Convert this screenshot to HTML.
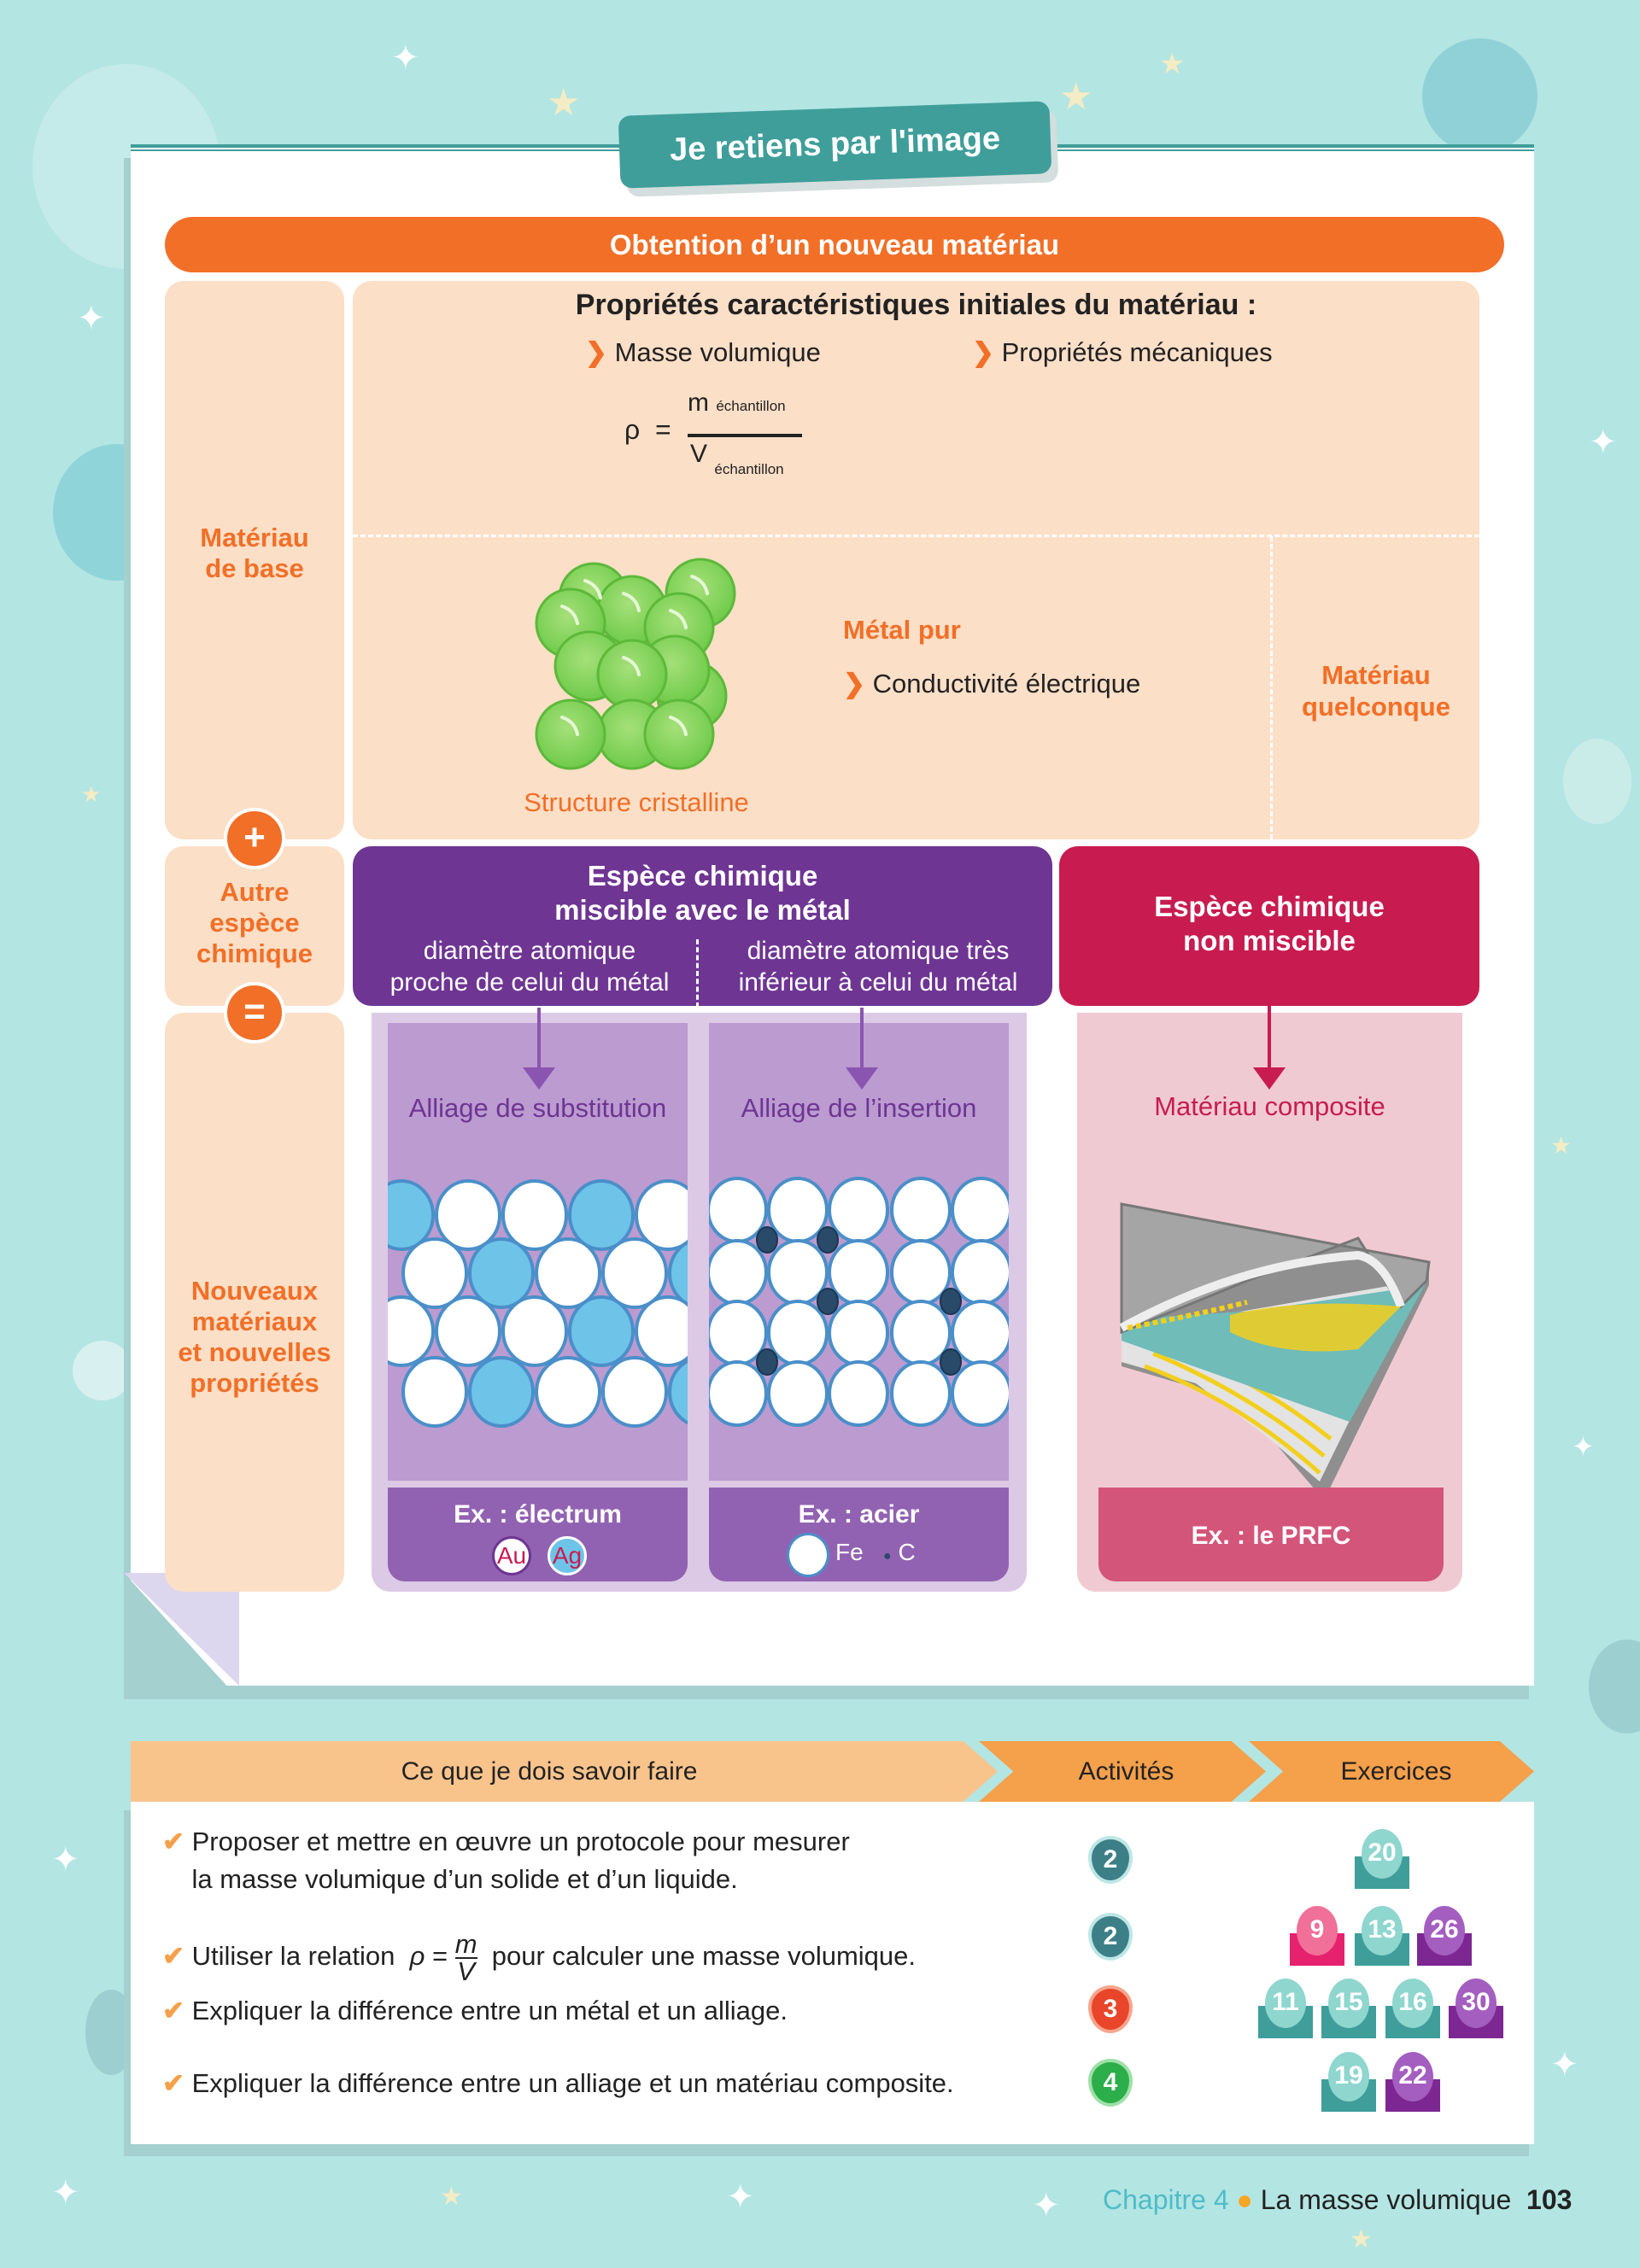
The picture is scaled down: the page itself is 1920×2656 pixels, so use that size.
<!DOCTYPE html>
<html><head><meta charset="utf-8">
<style>
*{margin:0;padding:0;box-sizing:border-box}
body{width:1920px;height:2656px;background:#b3e5e3;position:relative;overflow:hidden;font-family:"Liberation Sans",sans-serif}
.a{position:absolute}
.c{text-align:center}
.or{color:#f26f27;font-weight:bold}
</style></head><body>
<div class="a" style="left:38px;top:75px;width:220px;height:240px;border-radius:50%;background:#c8ebea;opacity:.8"></div>
<div class="a" style="left:62px;top:520px;width:150px;height:160px;border-radius:50%;background:#8fd4d8"></div>
<div class="a" style="left:1665px;top:45px;width:135px;height:135px;border-radius:50%;background:#8fd1d6"></div>
<div class="a" style="left:1830px;top:865px;width:80px;height:100px;border-radius:50%;background:#c9ece9"></div>
<div class="a" style="left:1860px;top:1920px;width:90px;height:110px;border-radius:50%;background:#9ccfcf"></div>
<div class="a" style="left:100px;top:2330px;width:60px;height:100px;border-radius:50%;background:#9ccfcf"></div>
<div class="a" style="left:85px;top:1570px;width:70px;height:70px;border-radius:50%;background:#d8f0ef"></div>

<div class="a" style="left:145px;top:185px;width:1645px;height:1805px;background:#a4d0cf"></div>
<div class="a" style="left:153px;top:169px;width:1643px;height:1805px;background:#fff"></div>
<div class="a" style="left:153px;top:169px;width:1643px;height:8px;border-top:4px solid #3f9e9a;border-bottom:2px solid #3f9e9a"></div>
<div class="a" style="left:145px;top:1842px;width:135px;height:132px;background:#dcd6ef;clip-path:polygon(0 0,100% 0,100% 100%)"></div>
<div class="a" style="left:145px;top:1842px;width:135px;height:148px;background:#a4d0cf;clip-path:polygon(0 0,100% 100%,0 100%)"></div>

<div class="a" style="left:733px;top:137px;width:505px;height:85px;background:#d4dede;border-radius:14px;transform:rotate(-2deg)"></div>
<div class="a c" style="left:725px;top:127px;width:505px;height:85px;background:#3f9e9a;border-radius:14px;transform:rotate(-2deg);color:#fff;font-weight:bold;font-size:38px;line-height:85px">Je retiens par l'image</div>

<div class="a c" style="left:193px;top:254px;width:1568px;height:65px;background:#f26f27;border-radius:33px;color:#fff;font-weight:bold;font-size:33px;line-height:65px">Obtention d’un nouveau matériau</div>

<div class="a" style="left:193px;top:329px;width:210px;height:654px;background:#fcdfc7;border-radius:22px"></div>
<div class="a c or" style="left:193px;top:612px;width:210px;font-size:31px;line-height:36px">Matériau<br>de base</div>
<div class="a" style="left:193px;top:991px;width:210px;height:187px;background:#fcdfc7;border-radius:22px"></div>
<div class="a c or" style="left:193px;top:1027px;width:210px;font-size:31px;line-height:36px">Autre<br>espèce<br>chimique</div>
<div class="a" style="left:193px;top:1186px;width:210px;height:678px;background:#fcdfc7;border-radius:22px"></div>
<div class="a c or" style="left:193px;top:1494px;width:210px;font-size:31px;line-height:36px">Nouveaux<br>matériaux<br>et nouvelles<br>propriétés</div>
<div class="a c" style="left:262px;top:946px;width:72px;height:72px;border-radius:50%;background:#f26f27;border:4px solid #fff;color:#fff;font-size:44px;font-weight:bold;line-height:62px">+</div>
<div class="a c" style="left:262px;top:1150px;width:72px;height:72px;border-radius:50%;background:#f26f27;border:4px solid #fff;color:#fff;font-size:44px;font-weight:bold;line-height:62px">=</div>

<div class="a" style="left:413px;top:329px;width:1319px;height:654px;background:#fcdfc7;border-radius:22px"></div>
<div class="a" style="left:413px;top:626px;width:1319px;border-top:3px dashed #fff"></div>
<div class="a" style="left:1487px;top:628px;height:355px;border-left:3px dashed #fff"></div>
<div class="a c" style="left:413px;top:338px;width:1319px;font-size:34px;font-weight:bold;color:#222">Propriétés caractéristiques initiales du matériau :</div>
<div class="a" style="left:685px;top:395px;font-size:31px;color:#222"><span class="or">❯</span> Masse volumique</div>
<div class="a" style="left:1138px;top:395px;font-size:31px;color:#222"><span class="or">❯</span> Propriétés mécaniques</div>
<div class="a" style="left:731px;top:485px;font-size:32px;color:#222">ρ&nbsp;&nbsp;=</div>
<div class="a" style="left:805px;top:455px;font-size:30px;color:#222">m <span style="font-size:17px">échantillon</span></div>
<div class="a" style="left:805px;top:508px;width:134px;border-top:4px solid #222"></div>
<div class="a" style="left:808px;top:515px;font-size:30px;color:#222">V <span style="font-size:17px;position:relative;top:14px">échantillon</span></div>

<svg class="a" style="left:620px;top:645px" width="250" height="270" viewBox="0 0 250 270">
<defs><radialGradient id="g" cx="45%" cy="40%" r="60%"><stop offset="0" stop-color="#a6e07a"/><stop offset="1" stop-color="#6fcb4a"/></radialGradient></defs>
<g fill="url(#g)" stroke="#5cb93a" stroke-width="3">
<circle cx="75" cy="55" r="40"/><circle cx="120" cy="70" r="40"/><circle cx="200" cy="50" r="40"/>
<circle cx="48" cy="85" r="40"/><circle cx="175" cy="90" r="40"/>
<circle cx="70" cy="135" r="40"/><circle cx="190" cy="170" r="40"/><circle cx="170" cy="140" r="40"/>
<circle cx="120" cy="145" r="40"/>
<circle cx="120" cy="215" r="40"/><circle cx="48" cy="215" r="40"/><circle cx="175" cy="215" r="40"/>
</g>
<g fill="none" stroke="#e6f7d6" stroke-width="4" stroke-linecap="round">
<path d="M190 30 q15 5 18 20"/><path d="M65 35 q15 5 18 20"/><path d="M110 50 q15 5 18 20"/><path d="M38 65 q15 5 18 20"/><path d="M165 70 q15 5 18 20"/><path d="M110 125 q15 5 18 20"/><path d="M38 195 q15 5 18 20"/><path d="M165 195 q15 5 18 20"/>
</g></svg>
<div class="a c" style="left:560px;top:922px;width:370px;font-size:31px;color:#f26f27">Structure cristalline</div>
<div class="a or" style="left:987px;top:720px;font-size:31px">Métal pur</div>
<div class="a" style="left:987px;top:783px;font-size:31px;color:#222"><span class="or">❯</span> Conductivité électrique</div>
<div class="a c or" style="left:1490px;top:772px;width:242px;font-size:31px;line-height:37px">Matériau<br>quelconque</div>

<div class="a" style="left:413px;top:991px;width:819px;height:187px;background:#6e3593;border-radius:22px"></div>
<div class="a c" style="left:413px;top:1006px;width:819px;color:#fff;font-weight:bold;font-size:33px;line-height:40px">Espèce chimique<br>miscible avec le métal</div>
<div class="a c" style="left:425px;top:1095px;width:390px;color:#fff;font-size:30px;line-height:37px">diamètre atomique<br>proche de celui du métal</div>
<div class="a c" style="left:828px;top:1095px;width:400px;color:#fff;font-size:30px;line-height:37px">diamètre atomique très<br>inférieur à celui du métal</div>
<div class="a" style="left:815px;top:1100px;height:80px;border-left:3px dashed #fff"></div>
<div class="a" style="left:1240px;top:991px;width:492px;height:187px;background:#c81c50;border-radius:22px"></div>
<div class="a c" style="left:1240px;top:1042px;width:492px;color:#fff;font-weight:bold;font-size:33px;line-height:40px">Espèce chimique<br>non miscible</div>

<div class="a" style="left:435px;top:1186px;width:767px;height:678px;background:#dcc9e6;border-radius:0 0 22px 22px"></div>
<div class="a" style="left:454px;top:1198px;width:351px;height:536px;background:#bb9bd0"></div>
<div class="a" style="left:830px;top:1198px;width:351px;height:536px;background:#bb9bd0"></div>
<div class="a" style="left:454px;top:1742px;width:351px;height:110px;background:#9262b2;border-radius:0 0 20px 20px"></div>
<div class="a" style="left:830px;top:1742px;width:351px;height:110px;background:#9262b2;border-radius:0 0 20px 20px"></div>
<div class="a" style="left:629px;top:1180px;height:80px;border-left:4px solid #8a55b0"></div>
<div class="a" style="left:612px;top:1250px;border-left:19px solid transparent;border-right:19px solid transparent;border-top:26px solid #8a55b0"></div>
<div class="a" style="left:1007px;top:1180px;height:80px;border-left:4px solid #8a55b0"></div>
<div class="a" style="left:990px;top:1250px;border-left:19px solid transparent;border-right:19px solid transparent;border-top:26px solid #8a55b0"></div>
<div class="a c" style="left:454px;top:1280px;width:351px;color:#6e3593;font-size:31px">Alliage de substitution</div>
<div class="a c" style="left:830px;top:1280px;width:351px;color:#6e3593;font-size:31px">Alliage de l’insertion</div>

<svg class="a" style="left:0;top:0" width="1920" height="1900">
<defs><clipPath id="c1"><rect x="454" y="1198" width="351" height="536"/></clipPath><clipPath id="c2"><rect x="830" y="1198" width="351" height="536"/></clipPath></defs>
<g clip-path="url(#c1)" stroke="#4a8fc9" stroke-width="4">
<ellipse cx="470" cy="1423" rx="37" ry="40" fill="#6ec3e8"/><ellipse cx="548" cy="1423" rx="37" ry="40" fill="#fff"/><ellipse cx="626" cy="1423" rx="37" ry="40" fill="#fff"/><ellipse cx="704" cy="1423" rx="37" ry="40" fill="#6ec3e8"/><ellipse cx="782" cy="1423" rx="37" ry="40" fill="#fff"/>
<ellipse cx="509" cy="1491" rx="37" ry="40" fill="#fff"/><ellipse cx="587" cy="1491" rx="37" ry="40" fill="#6ec3e8"/><ellipse cx="665" cy="1491" rx="37" ry="40" fill="#fff"/><ellipse cx="743" cy="1491" rx="37" ry="40" fill="#fff"/><ellipse cx="821" cy="1491" rx="37" ry="40" fill="#6ec3e8"/>
<ellipse cx="470" cy="1559" rx="37" ry="40" fill="#fff"/><ellipse cx="548" cy="1559" rx="37" ry="40" fill="#fff"/><ellipse cx="626" cy="1559" rx="37" ry="40" fill="#fff"/><ellipse cx="704" cy="1559" rx="37" ry="40" fill="#6ec3e8"/><ellipse cx="782" cy="1559" rx="37" ry="40" fill="#fff"/>
<ellipse cx="509" cy="1630" rx="37" ry="40" fill="#fff"/><ellipse cx="587" cy="1630" rx="37" ry="40" fill="#6ec3e8"/><ellipse cx="665" cy="1630" rx="37" ry="40" fill="#fff"/><ellipse cx="743" cy="1630" rx="37" ry="40" fill="#fff"/><ellipse cx="821" cy="1630" rx="37" ry="40" fill="#6ec3e8"/>
</g>
<g clip-path="url(#c2)" stroke="#4a8fc9" stroke-width="4" fill="#fff">
<ellipse cx="863" cy="1417" rx="34" ry="37"/><ellipse cx="934" cy="1417" rx="34" ry="37"/><ellipse cx="1005" cy="1417" rx="34" ry="37"/><ellipse cx="1078" cy="1417" rx="34" ry="37"/><ellipse cx="1149" cy="1417" rx="34" ry="37"/>
<ellipse cx="863" cy="1490" rx="34" ry="37"/><ellipse cx="934" cy="1490" rx="34" ry="37"/><ellipse cx="1005" cy="1490" rx="34" ry="37"/><ellipse cx="1078" cy="1490" rx="34" ry="37"/><ellipse cx="1149" cy="1490" rx="34" ry="37"/>
<ellipse cx="863" cy="1561" rx="34" ry="37"/><ellipse cx="934" cy="1561" rx="34" ry="37"/><ellipse cx="1005" cy="1561" rx="34" ry="37"/><ellipse cx="1078" cy="1561" rx="34" ry="37"/><ellipse cx="1149" cy="1561" rx="34" ry="37"/>
<ellipse cx="863" cy="1632" rx="34" ry="37"/><ellipse cx="934" cy="1632" rx="34" ry="37"/><ellipse cx="1005" cy="1632" rx="34" ry="37"/><ellipse cx="1078" cy="1632" rx="34" ry="37"/><ellipse cx="1149" cy="1632" rx="34" ry="37"/>
</g>
<g fill="#2a4a6a" stroke="#1d3550" stroke-width="2">
<ellipse cx="898" cy="1452" rx="12" ry="15"/><ellipse cx="969" cy="1452" rx="12" ry="15"/><ellipse cx="969" cy="1524" rx="12" ry="15"/><ellipse cx="1113" cy="1524" rx="12" ry="15"/><ellipse cx="898" cy="1595" rx="12" ry="15"/><ellipse cx="1113" cy="1595" rx="12" ry="15"/>
</g>
</svg>
<div class="a c" style="left:454px;top:1757px;width:351px;color:#fff;font-weight:bold;font-size:30px">Ex. : électrum</div>
<div class="a c" style="left:576px;top:1799px;width:46px;height:46px;border-radius:50%;background:#fff;border:3px solid #6e3593;color:#c81c50;font-size:28px;line-height:40px">Au</div>
<div class="a c" style="left:641px;top:1799px;width:46px;height:46px;border-radius:50%;background:#6ec3e8;border:3px solid #fff;color:#c81c50;font-size:28px;line-height:40px">Ag</div>
<div class="a c" style="left:830px;top:1757px;width:351px;color:#fff;font-weight:bold;font-size:30px">Ex. : acier</div>
<div class="a" style="left:921px;top:1795px;width:50px;height:52px;border-radius:50%;background:#fff;border:3px solid #4a8fc9"></div>
<div class="a" style="left:978px;top:1802px;color:#fff;font-size:28px">Fe &nbsp;&nbsp;<span style="font-size:16px;color:#2a4a6a">●</span> C</div>

<div class="a" style="left:1261px;top:1186px;width:451px;height:678px;background:#f0cad2;border-radius:0 0 22px 22px"></div>
<div class="a" style="left:1484px;top:1178px;height:82px;border-left:4px solid #c81c50"></div>
<div class="a" style="left:1467px;top:1250px;border-left:19px solid transparent;border-right:19px solid transparent;border-top:26px solid #c81c50"></div>
<div class="a c" style="left:1261px;top:1278px;width:451px;color:#c81c50;font-size:31px">Matériau composite</div>
<svg class="a" style="left:1300px;top:1400px" width="400" height="370" viewBox="1300 1400 400 370">
<polygon points="1313,1410 1673,1478 1673,1505 1552,1753 1540,1745 1450,1640 1313,1600" fill="#8f8f8f"/>
<polygon points="1313,1595 1400,1620 1480,1680 1545,1735 1660,1500 1313,1560" fill="#e3e3e3"/>
<path d="M1340 1600 Q1450 1640 1545 1725 M1350 1585 Q1460 1630 1550 1705 M1360 1572 Q1470 1615 1558 1685" stroke="#f3cf1c" stroke-width="5" fill="none"/>
<polygon points="1313,1570 1580,1665 1668,1505 1470,1535 1313,1545" fill="#6fbcb8"/>
<polygon points="1313,1410 1673,1478 1670,1500 1640,1530 1590,1450 1460,1500 1313,1560" fill="#a5a5a5" stroke="#777" stroke-width="3"/>
<path d="M1313 1555 Q1450 1480 1590 1470 Q1620 1475 1640 1530" stroke="#eee" stroke-width="10" fill="none"/>
<path d="M1440 1540 Q1520 1520 1640 1530 L1590 1580 Q1500 1590 1440 1560Z" fill="#f3cf1c" opacity=".85"/>
<path d="M1320 1555 Q1400 1540 1460 1525" stroke="#f3cf1c" stroke-width="6" stroke-dasharray="6 4" fill="none"/>
</svg>
<div class="a" style="left:1286px;top:1742px;width:404px;height:110px;background:#d4557a;border-radius:0 0 20px 20px"></div>
<div class="a c" style="left:1286px;top:1782px;width:404px;color:#fff;font-weight:bold;font-size:30px">Ex. : le PRFC</div>

<div class="a" style="left:145px;top:2120px;width:1645px;height:405px;background:#a4d0cf"></div>
<div class="a" style="left:153px;top:2110px;width:1643px;height:401px;background:#fff"></div>
<div class="a" style="left:153px;top:2039px;width:1015px;height:71px;background:#f9c48c;clip-path:polygon(0 0,96% 0,100% 50%,96% 100%,0 100%)"></div>
<div class="a c" style="left:153px;top:2039px;width:980px;font-size:30px;line-height:71px;color:#222">Ce que je dois savoir faire</div>
<div class="a" style="left:1146px;top:2039px;width:336px;height:71px;background:#f5a04a;clip-path:polygon(0 0,88% 0,100% 50%,88% 100%,0 100%,12% 50%)"></div>
<div class="a c" style="left:1166px;top:2039px;width:305px;font-size:30px;line-height:71px;color:#222">Activités</div>
<div class="a" style="left:1462px;top:2039px;width:334px;height:71px;background:#f5a04a;clip-path:polygon(0 0,88% 0,100% 50%,88% 100%,0 100%,12% 50%)"></div>
<div class="a c" style="left:1482px;top:2039px;width:305px;font-size:30px;line-height:71px;color:#222">Exercices</div>

<div class="a" style="left:190px;top:2135px;font-size:31px;line-height:44px;color:#222"><span style="color:#f5a04a;font-weight:bold">✔</span> Proposer et mettre en œuvre un protocole pour mesurer<br>&nbsp;&nbsp;&nbsp;&nbsp;la masse volumique d’un solide et d’un liquide.</div>
<div class="a" style="left:190px;top:2262px;font-size:31px;color:#222"><span style="color:#f5a04a;font-weight:bold">✔</span> Utiliser la relation &nbsp;<i>ρ</i> = <span style="display:inline-block;vertical-align:middle;text-align:center;font-style:italic;line-height:30px"><span style="border-bottom:2px solid #222;display:block">m</span>V</span> &nbsp;pour calculer une masse volumique.</div>
<div class="a" style="left:190px;top:2337px;font-size:31px;color:#222"><span style="color:#f5a04a;font-weight:bold">✔</span> Expliquer la différence entre un métal et un alliage.</div>
<div class="a" style="left:190px;top:2422px;font-size:31px;color:#222"><span style="color:#f5a04a;font-weight:bold">✔</span> Expliquer la différence entre un alliage et un matériau composite.</div>

<div class="a c" style="left:1274px;top:2150px;width:52px;height:56px;border-radius:50%/45% 45% 55% 55%;background:#3d7f86;border:4px solid #bde7e6;color:#fff;font-weight:bold;font-size:30px;line-height:48px">2</div>
<div class="a c" style="left:1274px;top:2240px;width:52px;height:56px;border-radius:50%/45% 45% 55% 55%;background:#3d7f86;border:4px solid #bde7e6;color:#fff;font-weight:bold;font-size:30px;line-height:48px">2</div>
<div class="a c" style="left:1274px;top:2325px;width:52px;height:56px;border-radius:50%/45% 45% 55% 55%;background:#e8452a;border:4px solid #f6a58d;color:#fff;font-weight:bold;font-size:30px;line-height:48px">3</div>
<div class="a c" style="left:1274px;top:2411px;width:52px;height:56px;border-radius:50%/45% 45% 55% 55%;background:#2cae4a;border:4px solid #9fe0a8;color:#fff;font-weight:bold;font-size:30px;line-height:48px">4</div>

<style>
.eb{position:absolute;width:64px;height:70px}
.eb .s{position:absolute;left:0;bottom:0;width:64px;height:38px}
.eb .o{position:absolute;left:8px;top:0;width:48px;height:58px;border-radius:50%;color:#fff;font-weight:bold;font-size:30px;line-height:56px;text-align:center}
.t .s{background:#3f9e9a}.t .o{background:#8fd6cf}
.p .s{background:#7d2793}.p .o{background:#a45ec0}
.k .s{background:#e6226e}.k .o{background:#f0709a}
</style>
<div class="eb t" style="left:1586px;top:2142px"><div class="s"></div><div class="o">20</div></div>
<div class="eb k" style="left:1510px;top:2232px"><div class="s"></div><div class="o">9</div></div>
<div class="eb t" style="left:1586px;top:2232px"><div class="s"></div><div class="o">13</div></div>
<div class="eb p" style="left:1659px;top:2232px"><div class="s"></div><div class="o">26</div></div>
<div class="eb t" style="left:1473px;top:2317px"><div class="s"></div><div class="o">11</div></div>
<div class="eb t" style="left:1547px;top:2317px"><div class="s"></div><div class="o">15</div></div>
<div class="eb t" style="left:1622px;top:2317px"><div class="s"></div><div class="o">16</div></div>
<div class="eb p" style="left:1696px;top:2317px"><div class="s"></div><div class="o">30</div></div>
<div class="eb t" style="left:1547px;top:2403px"><div class="s"></div><div class="o">19</div></div>
<div class="eb p" style="left:1622px;top:2403px"><div class="s"></div><div class="o">22</div></div>

<div class="a" style="left:1291px;top:2558px;font-size:32px;color:#222"><span style="color:#4fbcc8">Chapitre 4</span> <span style="color:#f5a623">●</span> La masse volumique &nbsp;<b>103</b></div>

<div class="a" style="left:458px;top:45px;color:#fff;font-size:40px">✦</div>
<div class="a" style="left:640px;top:95px;color:#f4ecc4;font-size:44px">★</div>
<div class="a" style="left:1240px;top:88px;color:#f4ecc4;font-size:44px">★</div>
<div class="a" style="left:1357px;top:55px;color:#f4ecc4;font-size:34px">★</div>
<div class="a" style="left:90px;top:350px;color:#fff;font-size:40px">✦</div>
<div class="a" style="left:1860px;top:495px;color:#fff;font-size:40px">✦</div>
<div class="a" style="left:95px;top:915px;color:#f4ecc4;font-size:26px">★</div>
<div class="a" style="left:1815px;top:1325px;color:#f4ecc4;font-size:28px">★</div>
<div class="a" style="left:1840px;top:1675px;color:#fff;font-size:32px">✦</div>
<div class="a" style="left:60px;top:2155px;color:#fff;font-size:40px">✦</div>
<div class="a" style="left:1815px;top:2395px;color:#fff;font-size:40px">✦</div>
<div class="a" style="left:60px;top:2545px;color:#fff;font-size:40px">✦</div>
<div class="a" style="left:850px;top:2550px;color:#fff;font-size:40px">✦</div>
<div class="a" style="left:1208px;top:2560px;color:#fff;font-size:40px">✦</div>
<div class="a" style="left:515px;top:2555px;color:#f4ecc4;font-size:30px">★</div>
<div class="a" style="left:1580px;top:2605px;color:#f4ecc4;font-size:30px">★</div>
</body></html>
